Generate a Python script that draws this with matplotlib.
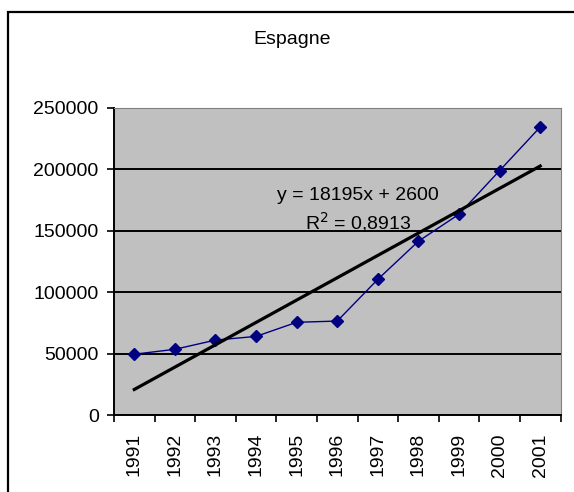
import matplotlib.pyplot as plt
import numpy as np
from matplotlib.patches import Rectangle

plt.rcParams['font.family'] = ['Liberation Sans', 'DejaVu Sans']

years = ['1991', '1992', '1993', '1994', '1995', '1996',
         '1997', '1998', '1999', '2000', '2001']
values = [49500, 53500, 61000, 64000, 75500, 76500,
          110500, 141500, 163500, 199000, 234500]
slope = 18195
intercept = 2600
r2_text = '0,8913'

fig = plt.figure(figsize=(5.74, 4.92), dpi=100)

# outer chart border (right/bottom edges fall outside the picture)
fig.patches.append(Rectangle((7.5 / 574, -0.05), 1.2, 1 - 11.5 / 492 + 0.05,
                             transform=fig.transFigure, fill=False,
                             edgecolor='black', linewidth=1.6, zorder=0))

ax = fig.add_axes([114 / 574, 1 - 415 / 492, 446.5 / 574, 307 / 492])
ax.set_facecolor('#c0c0c0')

x = np.arange(1, len(years) + 1)
ax.plot(x, values, color='#000080', linewidth=1, marker='D',
        markersize=6.5, markerfacecolor='#000080', markeredgecolor='#000080',
        zorder=3)

trend = slope * x + intercept
ax.plot(x, trend, color='black', linewidth=2.3, zorder=4)

ax.set_xlim(0.5, len(years) + 0.5)
ax.set_ylim(0, 250000)
ax.set_yticks(np.arange(0, 250001, 50000))
ax.set_yticklabels([str(v) for v in range(0, 250001, 50000)], fontsize=14)
ax.yaxis.grid(True, color='black', linewidth=1.4)
ax.set_axisbelow(True)

ax.set_xticks(x)
ax.set_xticklabels(years, rotation=90, fontsize=14)
ax.set_xticks(np.arange(0.5, len(years) + 1, 1), minor=True)
ax.tick_params(axis='x', which='major', length=0, pad=13)
ax.tick_params(axis='x', which='minor', length=5, width=1.2, color='black')
ax.tick_params(axis='y', length=5, width=1.2, pad=6)

ax.spines['left'].set_linewidth(1.4)
ax.spines['bottom'].set_linewidth(1.4)
ax.spines['top'].set_color('#808080')
ax.spines['right'].set_color('#808080')

ax.text(6.51, 179000, 'y = 18195x + 2600', fontsize=14, ha='center',
        va='center', zorder=5)
ax.text(6.51, 157500, 'R$^2$ = ' + r2_text, fontsize=14, ha='center',
        va='center', zorder=5)

fig.text(292 / 574, 1 - 40 / 492, 'Espagne', fontsize=14, ha='center',
         va='center')

fig.savefig('out.png', dpi=100)
